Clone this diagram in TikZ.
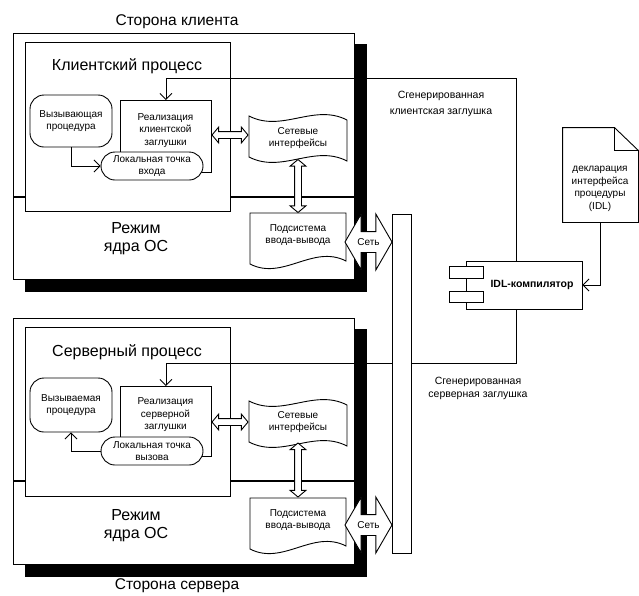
\documentclass[tikz,border=0pt]{standalone}
\usepackage{fontspec}
\setmainfont{Liberation Sans}
\usetikzlibrary{positioning,arrows.meta,shapes.arrows}

\begin{document}
\begin{tikzpicture}[x=1pt,y=-1pt,line width=0.9pt,
    lbl/.style={font=\fontsize{10}{12.5}\selectfont,align=center,inner sep=0pt},
    big/.style={font=\fontsize{16}{18}\selectfont,align=center,inner sep=0pt},
    side/.style={font=\fontsize{15.5}{16}\selectfont,inner sep=0pt},
    blk/.style={draw,fill=white,inner sep=0pt,anchor=north west},
    rnd/.style={draw,fill=white,rounded corners=14pt,inner sep=0pt,align=center,
      font=\fontsize{10}{12.5}\selectfont},
    barb/.style={-{Straight Barb[length=6pt,width=12pt]}},
    hollow/.style={double arrow,draw,fill=white,inner xsep=0pt,inner ysep=3pt,
      double arrow head extend=4.5pt,double arrow tip angle=100,minimum height=36pt},
    netarr/.style={double arrow,draw,fill=white,inner xsep=0pt,inner ysep=10pt,
      double arrow head extend=17.5pt,double arrow tip angle=120,minimum height=47pt}]
  \useasboundingbox (0,0) rectangle (639,595);

  % client side
  \fill (25,44) rectangle (367,292);
  \draw[fill=white] (13,33) rectangle (354,279);
  \draw[line width=2pt] (13,197) -- (354,197);
  \node[blk,minimum width=205,minimum height=169] (cproc) at (25,42) {};
  \node[big] (cproct) at (127,66) {Клиентский процесс};
  \node[big] (ckern) at (136,239) {Режим\\ядра ОС};
  \node[side] (cside) at (177,22) {Сторона клиента};
  \node[rnd,minimum width=82,minimum height=52] (caller) at (71,121) {Вызывающая\\процедура};
  \node[blk,minimum width=91,minimum height=72] (cstub) at (120,100) {};
  \node[lbl] (cstubt) at (165.5,130.5) {Реализация\\клиентской\\заглушки};
  \node[rnd,minimum width=102,minimum height=28] (centry) at (152,166) {Локальная точка\\входа};
  \draw[barb] (caller.south) |- (centry.west);
  \draw[fill=white] (249,116) .. controls (282,133) and (314,103) .. (347,120)
    -- (347,161) .. controls (314,144) and (282,174) .. (249,157) -- cycle;
  \node[lbl] (cnet) at (298,138) {Сетевые\\интерфейсы};
  \draw[fill=white] (250,213) -- (346,213) -- (346,261)
    .. controls (313,244) and (283,281) .. (250,264) -- cycle;
  \node[lbl] (cio) at (298,235) {Подсистема\\ввода-вывода};
  \node[hollow] (cha) at (230,135) {};
  \node[hollow,rotate=90,minimum height=53pt] (cva) at (298,186) {};

  % server side
  \fill (25,329) rectangle (367,577);
  \draw[fill=white] (13,318) rectangle (354,564);
  \draw[line width=2pt] (13,481) -- (354,481);
  \node[blk,minimum width=205,minimum height=169] (sproc) at (25,327) {};
  \node[big] (sproct) at (127,352) {Серверный процесс};
  \node[big] (skern) at (136,526) {Режим\\ядра ОС};
  \node[side] (sside) at (177,586) {Сторона сервера};
  \node[rnd,minimum width=82,minimum height=54] (callee) at (71,405) {Вызываемая\\процедура};
  \node[blk,minimum width=91,minimum height=70] (sstub) at (120,386) {};
  \node[lbl] (sstubt) at (165.5,415) {Реализация\\серверной\\заглушки};
  \node[rnd,minimum width=102,minimum height=28] (sentry) at (152,451) {Локальная точка\\вызова};
  \draw[barb] (sentry.west) -| (callee.south);
  \draw[fill=white] (249,401) .. controls (282,418) and (314,388) .. (347,405)
    -- (347,446) .. controls (314,429) and (282,459) .. (249,442) -- cycle;
  \node[lbl] (snet) at (298,422) {Сетевые\\интерфейсы};
  \draw[fill=white] (250,498) -- (346,498) -- (346,546)
    .. controls (313,529) and (283,566) .. (250,549) -- cycle;
  \node[lbl] (sio) at (298,520) {Подсистема\\ввода-вывода};
  \node[hollow] (sha) at (230,422) {};
  \node[hollow,rotate=90,minimum height=54pt] (sva) at (298,470) {};

  % compiler and generated stubs
  \node[draw,fill=white,minimum width=116,minimum height=48] (idl) at (524,285) {};
  \node[draw,fill=white,minimum width=34,minimum height=11.5] (idlp1) at (466,272.5) {};
  \node[draw,fill=white,minimum width=34,minimum height=11.5] (idlp2) at (466,297) {};
  \node[lbl,font={\fontsize{10.5}{12}\selectfont\bfseries}] (idlt) at (532,285) {IDL-компилятор};
  \draw[barb] ([xshift=-8pt]idl.north) |- ([yshift=22pt]cstub.north) -- (cstub.north);
  \draw[barb] ([xshift=-8pt]idl.south) |- ([yshift=23pt]sstub.north) -- (sstub.north);
  \node[lbl,font=\fontsize{10.5}{16}\selectfont] (cgen) at (441,104) {Сгенерированная\\клиентская заглушка};
  \node[lbl,font=\fontsize{10.5}{13}\selectfont] (sgen) at (478,388.5) {Сгенерированная\\серверная заглушка};

  \node[inner sep=0pt,minimum width=75,minimum height=94] (doc) at (600.5,175) {};
  \draw[fill=white] (doc.south west) -- (doc.north west) -- ([xshift=-24pt]doc.north east)
    -- ([yshift=-23pt]doc.north east) -- (doc.south east) -- cycle;
  \draw ([xshift=-24pt]doc.north east) |- ([yshift=-23pt]doc.north east);
  \node[lbl] (doct) at (600,189) {декларация\\интерфейса\\процедуры\\(IDL)};
  \draw[barb] (doc.south) |- (idl.east);

  % network
  \node[blk,minimum width=19,minimum height=339] (bus) at (392,214) {};
  \node[netarr] (cnetarr) at (368.5,242) {};
  \node[lbl] (cnetl) at (cnetarr) {Сеть};
  \node[netarr] (snetarr) at (368.5,525) {};
  \node[lbl] (snetl) at (snetarr) {Сеть};
\end{tikzpicture}
\end{document}
